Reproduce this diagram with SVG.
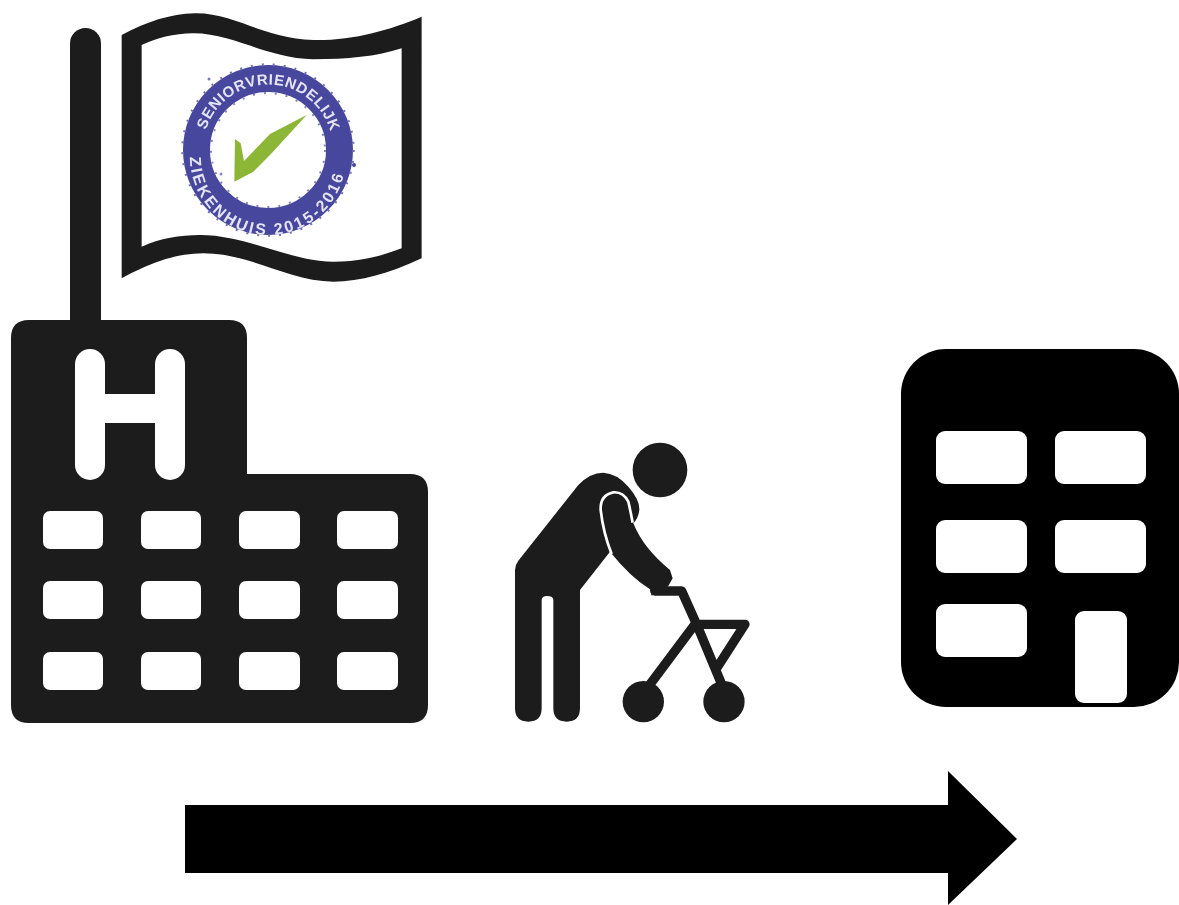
<svg xmlns="http://www.w3.org/2000/svg" width="1179" height="905" viewBox="0 0 1179 905">
<style>
.k{fill:#1f1b1c}
.w{fill:#fff}
.b{fill:#000}
.st{fill:none;stroke:#1f1b1c;stroke-width:28;stroke-linejoin:round;stroke-linecap:round}
.seal{font-family:"Liberation Sans",Arial,sans-serif;font-weight:700;fill:#e4e4f4}
</style>
<defs>
<filter id="soft" x="-5%" y="-5%" width="110%" height="110%"><feGaussianBlur stdDeviation="0.7"/></filter>
<filter id="softer" x="-5%" y="-5%" width="110%" height="110%"><feGaussianBlur stdDeviation="0.45"/></filter>
<path id="arcTop" d="M206 130A65 65 0 0 1 330 130"/>
<path id="arcBot" d="M190 157A78 78 0 0 0 346 157"/>
</defs>
<rect width="1179" height="905" fill="#fff"/>
<g id="hospital" filter="url(#soft)">
<rect class="k" x="70" y="28" width="31" height="310" rx="15.5"/>
<path class="k" d="M29 320H229Q247 320 247 338V474H410Q428 474 428 492V705Q428 723 410 723H29Q11 723 11 705V338Q11 320 29 320Z"/>
<g class="w">
<rect x="75" y="349" width="30" height="131" rx="15"/>
<rect x="155" y="349" width="30" height="131" rx="15"/>
<rect x="95" y="394" width="70" height="29"/>
<rect x="43" y="511" width="60" height="38" rx="7"/><rect x="141" y="511" width="60" height="38" rx="7"/><rect x="239" y="511" width="61" height="38" rx="7"/><rect x="337" y="511" width="61" height="38" rx="7"/>
<rect x="43" y="581" width="60" height="38" rx="7"/><rect x="141" y="581" width="60" height="38" rx="7"/><rect x="239" y="581" width="61" height="38" rx="7"/><rect x="337" y="581" width="61" height="38" rx="7"/>
<rect x="43" y="652" width="60" height="38" rx="7"/><rect x="141" y="652" width="60" height="38" rx="7"/><rect x="239" y="652" width="61" height="38" rx="7"/><rect x="337" y="652" width="61" height="38" rx="7"/>
</g>
</g>
<g id="flag" filter="url(#soft)">
<path class="k" fill-rule="evenodd" transform="translate(60 0) scale(.3333)" d="M185 105C260 65 330 42 405 40C520 38 610 115 760 120C880 122 990 90 1085 50V775C990 820 900 845 820 845C690 845 570 760 430 760C340 760 260 795 185 835ZM245 135V740C300 715 360 705 420 705C560 705 690 785 820 785C900 785 960 770 1025 745V145C950 170 860 178 760 178C620 175 520 100 400 100C340 100 290 115 245 135Z"/>
</g>
<g id="seal">
<g filter="url(#soft)">
<circle cx="268" cy="150" r="71.5" fill="none" stroke="#46469e" stroke-width="27"/>
<circle cx="268" cy="150" r="85.5" fill="none" stroke="#7272b8" stroke-width="2.5" stroke-dasharray="2 9"/>
<circle cx="268" cy="150" r="57" fill="none" stroke="#8080c0" stroke-width="2" stroke-dasharray="2 9"/>
<circle cx="354" cy="165" r="2" fill="#46469e"/>
<circle cx="209" cy="79" r="1.5" fill="#7a7ab8"/>
<circle cx="221" cy="174" r="1.5" fill="#8a8ac0"/>
<path fill="#8cb634" transform="translate(170 60) scale(.3333)" d="M195 237L212 250L222 303L300 222L410 165L300 285L250 335L193 365Z"/>
</g>
<g filter="url(#softer)">
<text class="seal" font-size="15"><textPath href="#arcTop" textLength="166" lengthAdjust="spacing">SENIORVRIENDELIJK</textPath></text>
<text class="seal" font-size="16"><textPath href="#arcBot" textLength="226" lengthAdjust="spacing">ZIEKENHUIS 2015-2016</textPath></text>
</g>
</g>
<g id="person" filter="url(#soft)">
<g transform="translate(500 430) scale(.3333)">
<circle class="k" cx="480" cy="120" r="82"/>
<path class="k" d="M45 420Q45 405 55 392L235 165Q270 128 310 128Q350 130 385 170Q420 210 418 240Q415 265 400 280Q430 355 510 420L518 445L505 468L455 497L450 478Q390 440 330 365L240 480V835Q240 875 200 875Q160 875 160 835V510Q160 498 142 498Q125 498 125 510V835Q125 875 85 875Q45 875 45 835Z"/>
<path class="st" d="M465 483H545L590 583H735L650 715"/>
<path class="st" d="M585 583L445 770"/>
<path class="st" d="M590 583L668 770"/>
<circle class="k" cx="430" cy="815" r="62"/>
<circle class="k" cx="672" cy="815" r="62"/>
<path fill="none" stroke="#fff" stroke-width="8" d="M398 278Q392 245 385 215Q370 185 340 187Q300 195 302 240Q310 310 335 372"/>
</g>
</g>
<g id="care-home">
<rect class="b" x="901" y="349" width="278" height="358" rx="45"/>
<g class="w">
<rect x="936" y="431" width="91" height="53" rx="9"/><rect x="1055" y="431" width="91" height="53" rx="9"/>
<rect x="936" y="520" width="91" height="53" rx="9"/><rect x="1055" y="520" width="91" height="53" rx="9"/>
<rect x="936" y="604" width="91" height="53" rx="9"/>
<rect x="1075" y="611" width="52" height="92" rx="9"/>
</g>
</g>
<g id="connectors">
<polygon class="b" points="185,805 948,805 948,771 1017,839 948,905 948,873 185,873"/>
</g>
</svg>
